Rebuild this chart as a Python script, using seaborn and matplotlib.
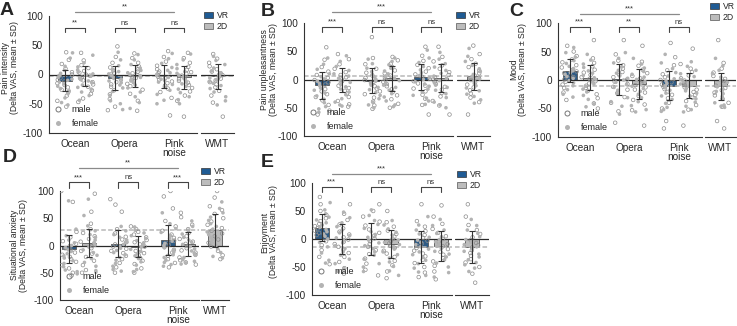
import matplotlib
matplotlib.use("Agg")
import matplotlib.pyplot as plt
from matplotlib.patches import Patch
from matplotlib.lines import Line2D
import seaborn as sns
import pandas as pd
import numpy as np

sounds = ["Ocean", "Opera", "Pink noise"]
tick_labels = ["Ocean", "Opera", "Pink\nnoise"]
modes = ["VR", "2D"]
# order of the 7 groups in every list below
group_sound = ["Ocean", "Ocean", "Opera", "Opera", "Pink noise", "Pink noise", "WMT"]
group_mode = ["VR", "2D", "VR", "2D", "VR", "2D", "2D"]

# ---- A: pain intensity ----
pain_int_mean = [-11, -3, -6, -2, -3, -5, -3]
pain_int_sd = [18, 17, 20, 19, 20, 19, 21]
pain_int_male = [
    [38, 25, 18, 10, 4, 0, -3, -6, -9, -12, -15, -18, -22, -26, -30, -36, -45, -55],
    [37, 24, 16, 11, 6, 3, 0, -2, -5, -7, -10, -13, -17, -21, -27, -33, -41, -47],
    [48, 30, 20, 12, 7, 3, 0, -3, -6, -9, -13, -17, -21, -27, -34, -42, -55, -61],
    [36, 28, 20, 14, 9, 5, 2, -1, -4, -6, -9, -12, -16, -20, -26, -33, -45, -62],
    [40, 30, 22, 15, 9, 5, 2, -1, -4, -6, -9, -12, -15, -19, -24, -30, -40, -70],
    [37, 28, 20, 13, 8, 4, 1, -2, -5, -8, -11, -14, -18, -23, -29, -36, -45, -72],
    [35, 27, 20, 14, 9, 5, 2, -1, -4, -7, -10, -13, -17, -22, -28, -36, -48, -72],
]
pain_int_female = [
    [37, 28, 14, 7, 2, -1, -5, -8, -10, -13, -16, -20, -24, -28, -33, -40, -48, -52],
    [33, 20, 13, 8, 4, 1, -1, -3, -6, -9, -11, -14, -18, -22, -25, -30, -36, -44],
    [38, 25, 15, 9, 5, 1, -2, -5, -8, -11, -14, -18, -23, -29, -36, -45, -50, -60],
    [34, 25, 17, 11, 7, 3, 0, -2, -5, -8, -11, -14, -18, -23, -30, -38, -48, -58],
    [36, 27, 19, 12, 7, 3, 0, -2, -5, -8, -10, -13, -17, -21, -27, -34, -44, -50],
    [35, 25, 17, 10, 5, 2, -1, -4, -7, -10, -13, -16, -20, -25, -31, -38, -43, -50],
    [31, 24, 17, 11, 6, 3, 0, -3, -6, -9, -12, -15, -19, -24, -30, -38, -45, -52],
]

# ---- B: pain unpleasantness ----
pain_unp_mean = [-10, -1, -2, 2, 5, 3, 6]
pain_unp_sd = [24, 22, 22, 22, 23, 25, 24]
pain_unp_male = [
    [57, 35, 22, 14, 8, 3, -1, -5, -9, -13, -17, -21, -26, -31, -37, -45, -55, -62],
    [45, 36, 27, 19, 13, 8, 4, 0, -3, -7, -11, -15, -20, -25, -31, -38, -44, -48],
    [75, 38, 27, 19, 12, 7, 3, -1, -4, -8, -12, -16, -21, -26, -32, -39, -46, -52],
    [40, 34, 28, 22, 16, 11, 7, 3, 0, -4, -8, -12, -17, -22, -28, -35, -43, -50],
    [58, 42, 33, 26, 20, 14, 9, 5, 1, -3, -7, -11, -16, -21, -27, -34, -45, -62],
    [58, 40, 32, 25, 19, 13, 8, 4, 0, -4, -8, -13, -18, -24, -30, -38, -46, -62],
    [60, 45, 36, 28, 22, 16, 11, 7, 3, -1, -5, -9, -14, -19, -25, -32, -40, -62],
]
pain_unp_female = [
    [38, 27, 18, 10, 5, 1, -3, -7, -11, -15, -19, -24, -29, -35, -41, -48, -52, -58],
    [42, 32, 23, 16, 10, 6, 2, -1, -5, -9, -13, -17, -22, -27, -34, -40, -45, -47],
    [36, 28, 20, 14, 9, 4, 0, -3, -6, -10, -14, -18, -23, -28, -34, -40, -45, -50],
    [38, 32, 26, 20, 15, 10, 5, 2, -2, -6, -10, -14, -19, -25, -31, -38, -45, -48],
    [52, 38, 30, 23, 17, 12, 7, 3, 0, -4, -8, -12, -17, -22, -28, -33, -38, -44],
    [48, 36, 28, 22, 16, 11, 6, 2, -2, -6, -10, -14, -19, -25, -32, -40, -45, -50],
    [55, 41, 32, 25, 19, 14, 9, 5, 1, -3, -7, -11, -15, -20, -26, -30, -36, -42],
]

# ---- C: mood ----
mood_mean = [16, 4, 1, -7, -10, -10, -11]
mood_sd = [20, 22, 27, 26, 25, 22, 24]
mood_male = [
    [60, 50, 42, 36, 31, 26, 22, 18, 15, 12, 8, 5, 1, -3, -8, -14, -22, -35],
    [70, 38, 30, 24, 18, 13, 9, 5, 2, -2, -6, -10, -14, -19, -25, -32, -41, -50],
    [70, 45, 34, 26, 20, 14, 9, 5, 1, -3, -7, -12, -17, -23, -30, -40, -55, -75],
    [60, 32, 25, 18, 12, 7, 3, -1, -5, -9, -13, -17, -22, -28, -35, -43, -53, -80],
    [65, 40, 26, 17, 10, 5, 0, -4, -8, -12, -16, -21, -26, -32, -40, -50, -72, -85],
    [55, 28, 20, 14, 8, 3, -1, -5, -9, -13, -17, -21, -26, -31, -37, -44, -52, -80],
    [70, 30, 20, 13, 7, 2, -2, -6, -10, -14, -18, -22, -27, -33, -40, -47, -72, -85],
]
mood_female = [
    [57, 48, 40, 34, 29, 24, 20, 16, 13, 10, 6, 3, -1, -5, -10, -17, -25, -30],
    [45, 35, 28, 22, 16, 12, 8, 4, 1, -3, -7, -11, -16, -21, -27, -34, -42, -47],
    [48, 38, 30, 23, 17, 12, 7, 3, 0, -4, -8, -13, -18, -24, -31, -38, -46, -60],
    [38, 28, 21, 15, 10, 5, 1, -3, -7, -11, -15, -20, -25, -31, -38, -45, -52, -56],
    [45, 30, 20, 13, 7, 2, -2, -6, -10, -14, -18, -23, -28, -34, -41, -48, -52, -55],
    [32, 24, 17, 11, 6, 1, -3, -7, -11, -15, -19, -23, -28, -33, -39, -46, -52, -56],
    [38, 25, 17, 11, 5, 0, -4, -8, -12, -16, -20, -24, -29, -34, -40, -44, -46, -48],
]

# ---- D: situational anxiety ----
anx_mean = [-7, 4, 3, -2, 10, 3, 28]
anx_sd = [26, 26, 25, 20, 27, 22, 30]
anx_male = [
    [100, 80, 25, 15, 8, 3, -1, -5, -9, -13, -17, -21, -25, -30, -36, -42, -50, -55],
    [95, 62, 40, 30, 23, 17, 12, 7, 3, -1, -5, -10, -15, -21, -28, -36, -45, -50],
    [85, 75, 62, 30, 22, 16, 11, 6, 2, -2, -6, -10, -14, -19, -25, -32, -40, -50],
    [35, 30, 25, 20, 15, 10, 6, 2, -2, -6, -10, -14, -18, -23, -28, -34, -42, -50],
    [100, 90, 68, 45, 35, 27, 20, 14, 9, 5, 1, -3, -8, -13, -19, -25, -32, -40],
    [60, 52, 38, 30, 23, 17, 12, 7, 3, -1, -5, -9, -13, -17, -22, -27, -31, -35],
    [100, 88, 72, 65, 58, 50, 44, 38, 32, 27, 22, 17, 11, 5, -2, -10, -18, -25],
]
anx_female = [
    [82, 30, 18, 10, 5, 0, -4, -8, -11, -15, -19, -23, -28, -33, -39, -45, -48, -52],
    [85, 55, 36, 27, 20, 15, 10, 5, 1, -3, -8, -13, -18, -24, -31, -38, -46, -49],
    [35, 27, 20, 15, 10, 6, 2, -1, -5, -9, -13, -17, -22, -27, -33, -38, -44, -47],
    [34, 28, 23, 18, 13, 9, 5, 1, -3, -7, -11, -15, -19, -24, -30, -36, -44, -48],
    [60, 40, 31, 24, 18, 13, 8, 4, 0, -4, -8, -12, -17, -22, -27, -31, -35, -38],
    [45, 35, 28, 21, 15, 10, 6, 2, -2, -6, -10, -14, -18, -22, -26, -29, -32, -34],
    [80, 68, 60, 52, 46, 40, 35, 30, 25, 20, 15, 10, 5, 0, -6, -13, -20, -23],
]

# ---- E: enjoyment ----
enjoy_mean = [20, 0, 0, -9, -14, -12, -14]
enjoy_sd = [24, 26, 28, 25, 29, 27, 28]
enjoy_male = [
    [75, 62, 50, 43, 37, 32, 27, 23, 19, 15, 11, 7, 2, -4, -11, -20, -32, -45],
    [62, 45, 34, 26, 19, 13, 8, 3, -1, -5, -9, -14, -19, -25, -32, -41, -52, -62],
    [62, 50, 40, 31, 24, 17, 11, 6, 1, -4, -9, -14, -20, -27, -35, -44, -55, -65],
    [50, 30, 22, 15, 9, 4, 0, -4, -8, -12, -16, -21, -26, -32, -39, -47, -58, -70],
    [62, 32, 22, 14, 7, 2, -3, -8, -12, -16, -21, -26, -31, -37, -43, -50, -60, -68],
    [60, 40, 27, 18, 11, 5, 0, -5, -9, -13, -18, -23, -28, -34, -40, -48, -58, -72],
    [62, 40, 25, 16, 9, 3, -2, -7, -11, -15, -20, -25, -30, -36, -42, -50, -62, -78],
]
enjoy_female = [
    [65, 52, 45, 39, 34, 29, 25, 21, 17, 13, 9, 5, 0, -6, -14, -25, -38, -43],
    [48, 38, 29, 22, 16, 11, 6, 2, -2, -7, -12, -17, -23, -29, -36, -44, -53, -58],
    [52, 42, 33, 26, 19, 13, 8, 3, -2, -7, -12, -17, -23, -29, -36, -44, -50, -58],
    [33, 25, 18, 12, 7, 2, -2, -6, -10, -14, -18, -23, -28, -34, -41, -49, -57, -65],
    [40, 25, 16, 9, 3, -2, -6, -10, -14, -18, -23, -28, -33, -38, -44, -52, -59, -65],
    [35, 24, 16, 10, 4, -1, -5, -9, -13, -17, -22, -27, -32, -37, -43, -50, -60, -68],
    [35, 24, 16, 10, 4, -1, -6, -10, -14, -18, -22, -27, -32, -37, -42, -46, -52, -58],
]

ylabels = ["Pain intensity", "Pain unpleasantness", "Mood", "Situational anxiety", "Enjoyment"]
sig_pairs = [["**", "ns", "ns"], ["***", "ns", "ns"], ["***", "**", "ns"],
             ["***", "ns", "***"], ["***", "ns", "ns"]]
sig_top = ["**", "***", "***", "**", "***"]

VR_COL = "#1f5b94"
TWO_D_COL = "#bcbcbc"
W, H = 737, 326
PX = 49.5  # pixels per category unit


def fx(px):
    return px / W


def fy(px):
    return 1 - px / H


def long_df(male, female):
    rows = []
    for i in range(7):
        for v in male[i]:
            rows.append((group_sound[i], group_mode[i], v, "male"))
        for v in female[i]:
            rows.append((group_sound[i], group_mode[i], v, "female"))
    return pd.DataFrame(rows, columns=["sound", "mode", "value", "sex"])


def style_points(ax, n0, sex):
    for c in ax.collections[n0:]:
        if sex == "male":
            c.set_facecolor("none")
            c.set_edgecolor("#8c8c8c")
            c.set_linewidth(0.5)
        else:
            c.set_facecolor("#b3b3b3")
            c.set_edgecolor("none")


def draw_panel(fig, letter, ylabel, male, female, means, sds, pairs, top, lay, ann,
               leg_xy, letter_xy, ylab_xy):
    x0, x1, w0, w1, ytop, ybot, xl = lay
    ax = fig.add_axes([fx(x0), fy(ybot), fx(x1 - x0), (ybot - ytop) / H])
    axw = fig.add_axes([fx(w0), fy(ybot), fx(w1 - w0), (ybot - ytop) / H], sharey=ax)

    pts = long_df(male, female)
    bars = pd.DataFrame({"sound": group_sound, "mode": group_mode, "mean": means, "sd": sds})
    mbars = bars[bars["sound"] != "WMT"]
    wbars = bars[bars["sound"] == "WMT"]

    # reference lines (0 and WMT mean)
    for a in (ax, axw):
        a.axhline(means[6], color="#b8b8b8", lw=1.1, ls=(0, (3, 1.5)), zorder=1.5)
        a.axhline(0, color="#2a2a2a", lw=0.9, zorder=2)

    # main axes: bars
    sns.barplot(data=mbars, x="sound", y="mean", hue="mode", order=sounds, hue_order=modes,
                palette={"VR": VR_COL, "2D": TWO_D_COL}, width=0.8, gap=0.3,
                edgecolor="#555555", linewidth=0.6, errorbar=None, legend=False, ax=ax)
    for p in ax.patches:
        p.set_zorder(1)

    for sex in ["male", "female"]:
        n0 = len(ax.collections)
        sub = pts[(pts["sex"] == sex) & (pts["sound"] != "WMT")]
        sns.stripplot(data=sub, x="sound", y="value", hue="mode", order=sounds, hue_order=modes,
                      dodge=True, jitter=0.34, size=2.6, palette={"VR": "#999", "2D": "#999"},
                      legend=False, ax=ax, zorder=3)
        style_points(ax, n0, sex)

    # error bars at bar centres (patches are hue-major)
    k = 0
    for mode in modes:
        for s in sounds:
            p = ax.patches[k]
            row = mbars[(mbars["sound"] == s) & (mbars["mode"] == mode)].iloc[0]
            xc = p.get_x() + p.get_width() / 2
            ax.errorbar(xc, row["mean"], yerr=row["sd"], fmt="none", ecolor="#333333",
                        elinewidth=0.8, capsize=2.2, capthick=0.8, zorder=5)
            k += 1

    # WMT axes
    sns.barplot(data=wbars, x="sound", y="mean", color=TWO_D_COL, width=0.28,
                edgecolor="#555555", linewidth=0.6, errorbar=None, ax=axw)
    for p in axw.patches:
        p.set_zorder(1)
    for sex in ["male", "female"]:
        n0 = len(axw.collections)
        sub = pts[(pts["sex"] == sex) & (pts["sound"] == "WMT")]
        sns.stripplot(data=sub, x="sound", y="value", color="#999", jitter=0.17, size=2.6,
                      ax=axw, zorder=3)
        style_points(axw, n0, sex)
    axw.errorbar(0, wbars["mean"].iloc[0], yerr=wbars["sd"].iloc[0], fmt="none",
                 ecolor="#333333", elinewidth=0.8, capsize=2.2, capthick=0.8, zorder=5)

    # axes styling
    ax.set_xlim(xl, xl + (x1 - x0) / PX)
    hw = (w1 - w0) / 2 / PX
    axw.set_xlim(-hw, hw)
    ax.set_ylim(-100, 100)
    ax.set_yticks([-100, -50, 0, 50, 100])
    ax.set_yticklabels(["-100", "-50", "0", "50", "100"])
    ax.set_xticks(range(3))
    ax.set_xticklabels(tick_labels, linespacing=0.9)
    axw.set_xticks([0])
    axw.set_xticklabels(["WMT"])
    ax.set_xlabel("")
    axw.set_xlabel("")
    axw.set_ylabel("")
    ax.set_ylabel(ylabel + "\n(Delta VAS, mean \u00b1 SD)", fontsize=6.2, linespacing=0.95)
    ax.yaxis.set_label_coords(fx(ylab_xy[0]), fy(ylab_xy[1]), transform=fig.transFigure)
    for a in (ax, axw):
        a.tick_params(axis="both", labelsize=7.2, length=3, width=0.8, color="#333", pad=1.2)
        for sp in a.spines.values():
            sp.set_color("#333")
            sp.set_linewidth(0.8)
        a.spines["top"].set_visible(False)
        a.spines["right"].set_visible(False)
        a.set_facecolor("none")
    axw.spines["left"].set_visible(False)
    axw.tick_params(axis="y", left=False, labelleft=False)

    # significance
    b_top, b_bot, l_top = ann
    for i, lab in enumerate(pairs):
        ax.plot([i - 0.2, i - 0.2, i + 0.2, i + 0.2], [b_bot, b_top, b_top, b_bot],
                color="#444", lw=0.8, clip_on=False)
        ax.text(i, b_top + 2, lab, ha="center", va="bottom", fontsize=5.5, color="#333", clip_on=False)
    ax.plot([0, 2], [l_top, l_top], color="#8a8a8a", lw=0.9, clip_on=False)
    ax.text(1, l_top + 3, top, ha="center", va="bottom", fontsize=5.5, color="#333", clip_on=False)

    # legends
    sex_handles = [Line2D([], [], ls="none", marker="o", ms=3.6, mfc="none", mec="#777", mew=0.7, label="male"),
                   Line2D([], [], ls="none", marker="o", ms=3.6, mfc="#b3b3b3", mec="none", label="female")]
    ax.legend(handles=sex_handles, loc="lower left", frameon=False, fontsize=6.5,
              borderaxespad=0.1, handletextpad=1.0, labelspacing=0.6, handlelength=1.0)
    mode_handles = [Patch(facecolor=VR_COL, edgecolor="#333", lw=0.5, label="VR"),
                    Patch(facecolor=TWO_D_COL, edgecolor="#555", lw=0.5, label="2D")]
    fig.legend(handles=mode_handles, loc="upper left", bbox_to_anchor=(fx(leg_xy[0]), fy(leg_xy[1])),
               frameon=False, fontsize=6.2, borderpad=0, borderaxespad=0, handlelength=1.1,
               handleheight=0.7, labelspacing=0.2, handletextpad=0.35)

    fig.text(fx(letter_xy[0]), fy(letter_xy[1]), letter, fontsize=14, fontweight="bold",
             ha="left", va="top")


sns.set_style("white")
plt.rcParams["font.family"] = ["Liberation Sans", "DejaVu Sans"]
plt.rcParams["axes.unicode_minus"] = False
np.random.seed(3)  # jitter only

fig = plt.figure(figsize=(7.37, 3.26), dpi=100)

layouts = [
    (49, 197, 201, 234, 16, 133, -0.53),
    (304, 453, 457, 490, 23, 136, -0.57),
    (558, 702, 705, 736, 23, 137, -0.44),
    (60, 199, 201, 229, 191, 300, -0.38),
    (312, 452, 455, 489, 183, 295, -0.40),
]
annots = [(80, 72, 107), (93, 84, 119), (93, 84, 116), (116, 106, 143), (93, 84, 116)]
legend_pos = [(204, 11), (456, 11), (710, 2), (201, 167), (457, 170)]
letter_pos = [(0, 2), (261, 3), (509, 3), (3, 149), (261, 154)]
ylabel_pos = [(19, 68), (278, 70), (527, 69), (28, 245), (278, 232)]

panels = [
    ("A", pain_int_male, pain_int_female, pain_int_mean, pain_int_sd),
    ("B", pain_unp_male, pain_unp_female, pain_unp_mean, pain_unp_sd),
    ("C", mood_male, mood_female, mood_mean, mood_sd),
    ("D", anx_male, anx_female, anx_mean, anx_sd),
    ("E", enjoy_male, enjoy_female, enjoy_mean, enjoy_sd),
]

for i, (letter, m, f, mu, sd) in enumerate(panels):
    draw_panel(fig, letter, ylabels[i], m, f, mu, sd, sig_pairs[i], sig_top[i],
               layouts[i], annots[i], legend_pos[i], letter_pos[i], ylabel_pos[i])

fig.savefig("out.png", dpi=100)
